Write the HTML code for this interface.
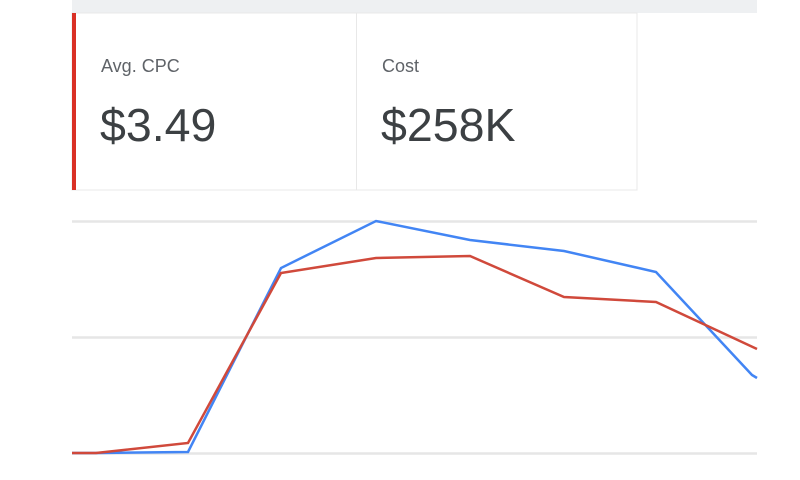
<!DOCTYPE html>
<html><head><meta charset="utf-8"><style>
html,body{margin:0;padding:0;background:#fff;width:800px;height:480px;overflow:hidden;font-family:"Liberation Sans",Arial,sans-serif}
</style></head><body>
<svg width="800" height="480" xmlns="http://www.w3.org/2000/svg">
<rect x="72" y="0" width="685" height="13" fill="#eef0f2"/>
<rect x="72" y="13" width="565" height="177" fill="#fff" stroke="#e8e8e8" stroke-width="1"/>
<line x1="356.5" y1="13" x2="356.5" y2="190" stroke="#e8e8e8" stroke-width="1"/>
<rect x="72" y="13" width="4" height="177" fill="#d93025"/>
<text x="101" y="72" font-size="18" fill="#5f6368">Avg. CPC</text>
<text x="100" y="141" font-size="46.5" fill="#3c4043">$3.49</text>
<text x="382" y="72" font-size="18" fill="#5f6368">Cost</text>
<text x="381" y="141" font-size="46.5" fill="#3c4043">$258K</text>
<g stroke="#e6e6e6" stroke-width="2.5">
<line x1="72" y1="221.5" x2="757" y2="221.5"/>
<line x1="72" y1="337.5" x2="757" y2="337.5"/>
<line x1="72" y1="453.5" x2="757" y2="453.5"/>
</g>
<polyline fill="none" stroke="#4285f4" stroke-width="2.5" points="72,453 96,453 188,452 281,268 376,221 470,240 564,251 656,272 752,375 757,378"/>
<polyline fill="none" stroke="#d0493b" stroke-width="2.5" points="72,453 96,453 188,443 281,273 376,258 470,256 564,297 656,302 757,349"/>
</svg>
</body></html>
